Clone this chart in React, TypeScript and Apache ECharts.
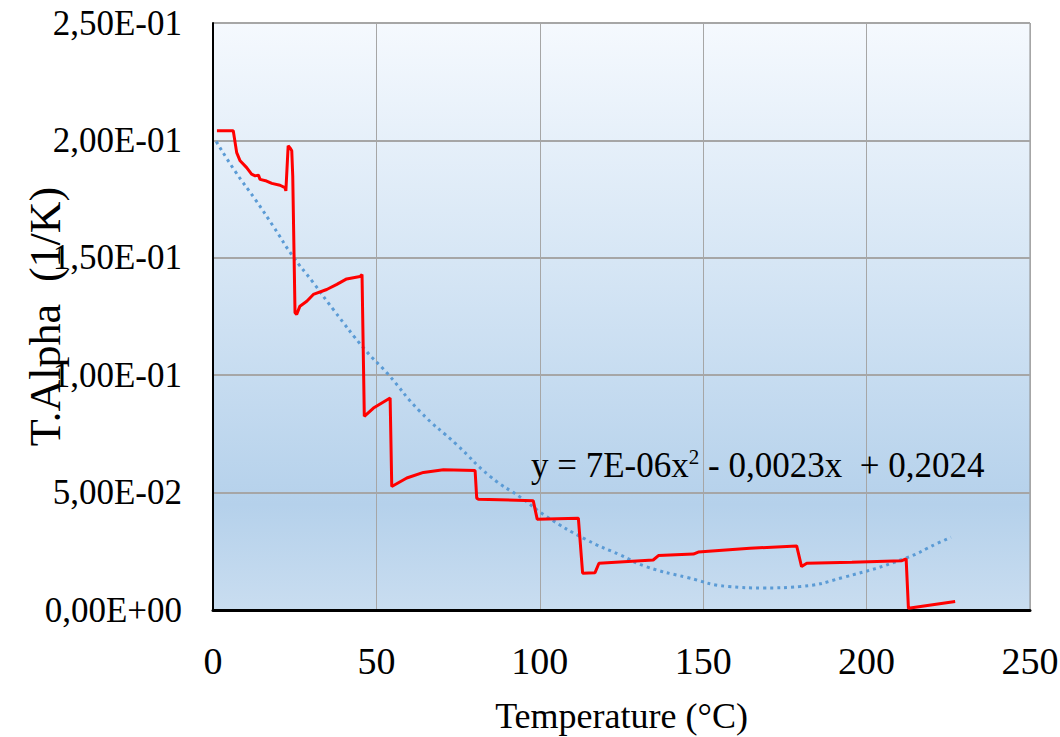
import React, { useEffect, useRef } from "react";
import * as echarts from "echarts";

const xTicks = [0, 50, 100, 150, 200, 250];
const yTicks = [0, 0.05, 0.1, 0.15, 0.2, 0.25];

const measured: [number, number][] = [
  [1.2, 0.2041], [6.2, 0.2041], [7.25, 0.1948], [8.3, 0.1913], [10.3, 0.1884],
  [11.8, 0.1856], [12.9, 0.1849], [13.9, 0.1852], [14.4, 0.1834], [16.4, 0.1827],
  [18.0, 0.1817], [20.5, 0.1809], [22.0, 0.1799], [22.3, 0.1785], [23.0, 0.1977],
  [23.6, 0.1968], [24.1, 0.1956], [24.4, 0.1849], [25.1, 0.1266], [25.6, 0.1259],
  [26.6, 0.1294], [28.7, 0.1315], [30.7, 0.1344], [34.8, 0.1365], [37.9, 0.1387],
  [40.9, 0.141], [45.0, 0.142], [45.6, 0.1429], [46.3, 0.0825], [49.1, 0.086],
  [54.2, 0.0903], [54.7, 0.0526], [59.3, 0.0562], [64.4, 0.0586], [70.5, 0.0597],
  [80.2, 0.0594], [80.7, 0.0476], [81.2, 0.0472], [98.0, 0.0465], [99.2, 0.0387],
  [111.8, 0.0391], [113.1, 0.0157], [116.9, 0.0159], [118.1, 0.0199], [134.7, 0.0213],
  [136.3, 0.0232], [147.0, 0.0238], [148.5, 0.0247], [164.3, 0.0263], [178.6, 0.0273],
  [180.1, 0.0185], [181.7, 0.0199], [195.5, 0.0203], [210.8, 0.021], [212.1, 0.0218],
  [212.8, 0.0007], [227.1, 0.0036],
];

const trend: [number, number][] = [
  [1, 0.1995], [6.7, 0.187], [12.9, 0.1749], [18.5, 0.1633], [24.4, 0.1507],
  [30.7, 0.1394], [36.8, 0.128], [46.5, 0.1109], [53.2, 0.101], [63.3, 0.0846],
  [74.6, 0.0704], [84.8, 0.0569], [94.5, 0.0476], [102.1, 0.0398], [114.3, 0.0299],
  [124.5, 0.0235], [132.5, 0.0185], [145, 0.0139], [157.7, 0.01], [168.4, 0.0094],
  [179.6, 0.01], [192.9, 0.0139], [211.8, 0.022], [221.4, 0.0282], [225.8, 0.031],
];

const FONT = "Liberation Serif";

function fmtSci(v: number): string {
  if (v === 0) return "0,00E+00";
  const [m, e] = v.toExponential(2).split("e");
  const ex = parseInt(e, 10);
  const sign = ex < 0 ? "-" : "+";
  const abs = Math.abs(ex).toString().padStart(2, "0");
  return m.replace(".", ",") + "E" + sign + abs;
}

export default function App() {
  const ref = useRef<HTMLDivElement>(null);
  useEffect(() => {
    if (!ref.current) return;
    const chart = echarts.init(ref.current, undefined, { renderer: "svg" });
    chart.setOption({
      animation: false,
      backgroundColor: "#ffffff",
      textStyle: { fontFamily: FONT },
      grid: {
        left: 213,
        right: 30,
        top: 23,
        bottom: 127,
        containLabel: false,
        outerBoundsMode: "none",
        show: true,
        borderColor: "#8c8c8c",
        borderWidth: 1,
        backgroundColor: new echarts.graphic.LinearGradient(0, 0, 0, 1, [
          { offset: 0, color: "#f5f9fe" },
          { offset: 0.45, color: "#d3e4f4" },
          { offset: 0.82, color: "#b5d1eb" },
          { offset: 1, color: "#c9ddf0" },
        ]),
      },
      xAxis: {
        type: "value",
        min: xTicks[0],
        max: xTicks[xTicks.length - 1],
        interval: 50,
        name: "Temperature (°C)",
        nameLocation: "middle",
        nameGap: 88,
        nameMoveOverlap: false,
        nameTextStyle: { fontFamily: FONT, fontSize: 36, color: "#000" },
        axisLine: { show: true, lineStyle: { color: "#000", width: 3 } },
        axisTick: { show: false },
        axisLabel: { fontFamily: FONT, fontSize: 38, color: "#000", margin: 32 },
        splitLine: { show: true, lineStyle: { color: "#a6a6a6", width: 1 } },
      },
      yAxis: {
        type: "value",
        min: yTicks[0],
        max: yTicks[yTicks.length - 1],
        interval: 0.05,
        name: "T.Alpha  (1/K)",
        nameLocation: "middle",
        nameGap: 146,
        nameMoveOverlap: false,
        nameTextStyle: { fontFamily: FONT, fontSize: 44, color: "#000" },
        axisLine: { show: true, lineStyle: { color: "#000", width: 2 } },
        axisTick: { show: false },
        axisLabel: {
          fontFamily: FONT,
          fontSize: 35,
          color: "#000",
          margin: 31,
          formatter: (v: number) => fmtSci(v),
        },
        splitLine: { show: true, lineStyle: { color: "#a6a6a6", width: 2 } },
      },
      series: [
        {
          type: "line",
          data: trend,
          smooth: true,
          showSymbol: false,
          lineStyle: { color: "#5b9bd5", width: 3, type: [3, 4] },
          z: 2,
        },
        {
          type: "line",
          data: measured,
          showSymbol: false,
          lineStyle: { color: "#ff0000", width: 3 },
          z: 3,
        },
      ],
      graphic: [
        {
          type: "text",
          left: 531,
          top: 446,
          z: 10,
          style: {
            text: "{a|y = 7E-06x}{s|2}{a| - 0,0023x  + 0,2024}",
            rich: {
              a: { fontFamily: FONT, fontSize: 35, fill: "#000", verticalAlign: "bottom" },
              s: { fontFamily: FONT, fontSize: 21, fill: "#000", verticalAlign: "top", padding: [0, 0, 16, 0] },
            },
          },
        },
      ],
    });
    return () => chart.dispose();
  }, []);
  return (
    <div
      ref={ref}
      style={{ position: "fixed", left: 0, top: 0, width: 1060, height: 737 }}
    />
  );
}
